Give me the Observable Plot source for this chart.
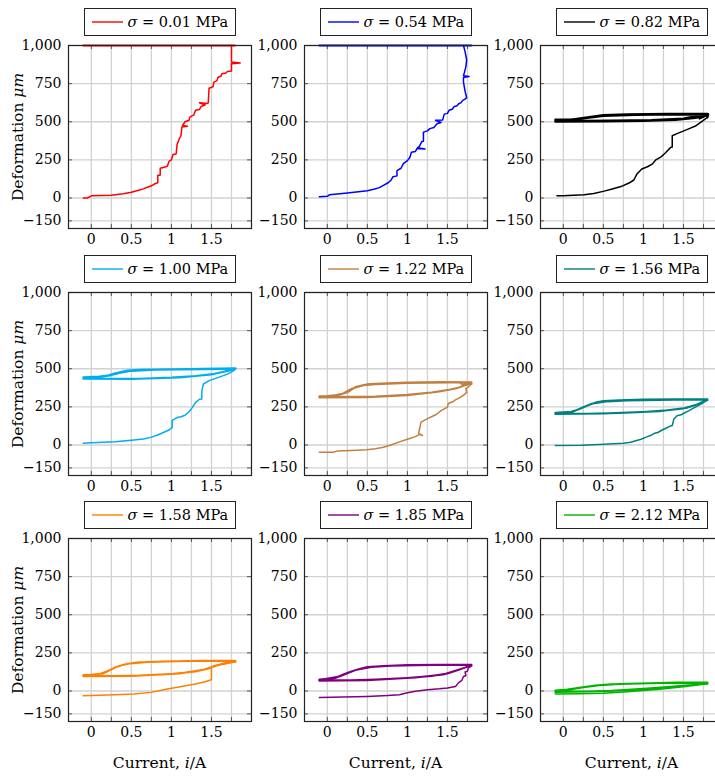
<!DOCTYPE html>
<html>
<head>
<meta charset="utf-8">
<script src="https://cdn.jsdelivr.net/npm/d3@7"></script>
<script src="https://cdn.jsdelivr.net/npm/@observablehq/plot@0.6"></script>
<style>
  html, body { margin: 0; padding: 0; background: #fff; }
  #wrap { position: relative; width: 715px; height: 776px; overflow: hidden;
          font-family: "DejaVu Serif", serif; color: #000; }
  .legend { position: absolute; box-sizing: border-box; height: 28px; width: 152px; border: 1px solid #222; background: #fff;
            display: flex; align-items: center; font-size: 14.5px; white-space: nowrap; }
  .legend svg { margin: 0 5px 0 7px; flex: none; }
  .lab { position: absolute; font-size: 15.5px; white-space: nowrap; }
  i { font-style: italic; }
</style>
</head>
<body>
<div id="wrap"></div>
<script>
// Deformation (µm) against coil current (A) for nine pre-stress levels.
// Each series: the first-loading rise, then the repeated hysteresis passes.

const stresses = ["0.01", "0.54", "0.82", "1.00", "1.22", "1.56", "1.58", "1.85", "2.12"];
const colors = ["#ff0000", "#0000ff", "#000000", "#00aeef", "#c0803f", "#008080", "#ff8000", "#800080", "#00b400"];

const xTickLabels = [0, 0.5, 1, 1.5];
const xGrid = [0, 0.25, 0.5, 0.75, 1, 1.25, 1.5, 1.75];
const yTicks = [-150, 0, 250, 500, 750, 1000];

// σ = 0.01 MPa
const rise001 = [[-0.1,0],[-0.05,0],[0,14],[0.25,18],[0.4,28],[0.5,38],[0.6,52],[0.65,60],[0.7,70],[0.75,80],[0.8,95],[0.83,100],[0.83,150],[0.86,150],[0.86,195],[0.93,205],[0.95,210],[0.97,240],[1.0,250],[1.02,285],[1.06,290],[1.07,350],[1.1,390],[1.12,410],[1.13,465],[1.2,470],[1.14,476],[1.17,500],[1.22,510],[1.23,530],[1.28,545],[1.3,575],[1.35,580],[1.37,600],[1.42,610],[1.35,625],[1.45,620],[1.46,625],[1.47,720],[1.52,730],[1.53,760],[1.57,770],[1.58,790],[1.62,800],[1.63,815],[1.68,820],[1.7,830],[1.75,832],[1.75,880],[1.86,886],[1.75,892],[1.75,1000]];
const loop001 = [[1.75,1000],[1.79,1000],[-0.1,1000]];

// σ = 0.54 MPa
const rise054 = [[-0.1,9],[0,11],[0.03,22],[0.25,33],[0.5,48],[0.58,57],[0.65,68],[0.7,83],[0.76,100],[0.8,120],[0.82,140],[0.87,145],[0.87,180],[0.92,195],[0.95,225],[1.0,245],[1.03,265],[1.05,300],[1.1,305],[1.12,325],[1.22,322],[1.13,330],[1.15,340],[1.18,370],[1.2,372],[1.2,432],[1.25,440],[1.28,455],[1.33,462],[1.37,487],[1.42,495],[1.35,510],[1.44,512],[1.46,550],[1.5,555],[1.52,575],[1.56,582],[1.58,598],[1.62,605],[1.64,618],[1.67,625],[1.69,640],[1.72,648],[1.74,658],[1.72,700],[1.7,760],[1.7,790],[1.77,796],[1.7,802],[1.71,820],[1.73,860],[1.74,905],[1.72,960],[1.7,1000]];
const loop054 = [[1.7,1000],[1.8,1000],[-0.1,1000]];

// σ = 0.82 MPa
const rise082 = [[-0.08,15],[0,15],[0.26,22],[0.38,30],[0.51,45],[0.6,58],[0.72,75],[0.82,98],[0.88,118],[0.92,158],[0.98,190],[1.05,205],[1.11,222],[1.15,248],[1.22,270],[1.28,298],[1.34,332],[1.36,335],[1.36,408],[1.42,422],[1.55,450],[1.65,472],[1.74,505],[1.8,528]];
const loop082 = [[1.8,528],[1.81,548],[1.5,550],[1.0,548],[0.6,543],[0.4,535],[0.2,520],[0.0,512],[-0.1,510],[-0.1,503],[0.3,504],[0.8,506],[1.2,510],[1.5,518],[1.7,532],[1.81,550],[1.65,548],[1.81,545],[1.4,548],[0.9,545],[0.5,537],[0.25,522],[0,508],[-0.1,507],[-0.1,500],[0.5,502],[1.0,505],[1.4,512],[1.65,525],[1.8,543],[1.7,520],[1.8,552],[1.3,552],[0.8,550],[0.5,545],[0.3,530],[0.1,515],[-0.1,515],[-0.1,505],[0.6,508],[1.1,512],[1.5,522],[1.8,552]];

// σ = 1.00 MPa
const rise100 = [[-0.1,11],[0,15],[0.3,22],[0.53,33],[0.65,40],[0.74,50],[0.82,64],[0.9,82],[0.97,98],[1.0,112],[1.01,116],[1.01,162],[1.07,180],[1.12,185],[1.17,195],[1.22,218],[1.26,245],[1.3,278],[1.35,300],[1.38,302],[1.38,355],[1.4,400],[1.47,422],[1.57,440],[1.7,465],[1.78,488],[1.8,500]];
const loop100 = [[1.8,500],[1.8,503],[1.4,500],[1.0,497],[0.6,494],[0.45,488],[0.3,470],[0.2,455],[0.1,450],[-0.1,445],[-0.1,437],[0.3,434],[0.6,435],[1.0,442],[1.3,452],[1.55,468],[1.7,485],[1.8,500],[1.4,497],[0.8,493],[0.5,486],[0.35,472],[0.25,458],[0.1,446],[-0.1,440],[-0.1,434],[0.5,432],[1.1,443],[1.5,462],[1.8,498]];

// σ = 1.22 MPa
const rise122 = [[-0.1,-48],[0.07,-48],[0.12,-40],[0.3,-36],[0.49,-31],[0.6,-25],[0.7,-15],[0.78,-2],[0.83,7],[0.91,22],[1.0,38],[1.1,55],[1.15,70],[1.19,62],[1.14,78],[1.17,150],[1.24,170],[1.3,185],[1.36,200],[1.42,225],[1.49,245],[1.5,248],[1.51,272],[1.57,285],[1.6,296],[1.66,312],[1.71,330],[1.74,345],[1.73,370],[1.76,380],[1.8,400]];
const loop122 = [[1.8,400],[1.8,412],[1.4,413],[1.0,410],[0.6,402],[0.5,398],[0.35,380],[0.25,345],[0.15,330],[0,322],[-0.1,320],[-0.1,314],[0.3,316],[0.6,318],[1.0,330],[1.3,345],[1.5,360],[1.65,378],[1.72,395],[1.8,410],[1.5,410],[1.0,406],[0.6,398],[0.45,392],[0.3,368],[0.2,338],[0.1,326],[-0.1,317],[-0.1,312],[0.5,313],[1.0,326],[1.4,350],[1.6,370],[1.7,388],[1.8,405],[1.7,395],[1.65,410]];

// σ = 1.56 MPa
const rise156 = [[-0.1,-4],[0.22,-2],[0.45,3],[0.63,8],[0.75,12],[0.84,18],[0.97,38],[1.05,55],[1.09,62],[1.13,75],[1.18,82],[1.24,100],[1.28,110],[1.34,125],[1.36,128],[1.38,170],[1.42,192],[1.48,200],[1.51,210],[1.57,225],[1.63,243],[1.72,268],[1.75,280],[1.8,295]];
const loop156 = [[1.8,295],[1.8,300],[1.4,300],[1.0,298],[0.7,293],[0.5,288],[0.4,278],[0.3,258],[0.2,235],[0.1,218],[-0.1,212],[-0.1,205],[0.3,205],[0.7,210],[1.0,216],[1.3,228],[1.5,240],[1.65,262],[1.8,297],[1.4,297],[0.8,291],[0.55,286],[0.35,270],[0.25,248],[0.1,214],[-0.1,208],[-0.1,203],[0.5,206],[1.2,222],[1.55,245],[1.7,270],[1.8,298]];

// σ = 1.58 MPa
const rise158 = [[-0.1,-31],[0.11,-28],[0.3,-24],[0.53,-20],[0.74,-9],[0.85,2],[0.95,13],[1.11,28],[1.28,44],[1.4,57],[1.49,72],[1.5,76],[1.5,155],[1.53,166],[1.6,172],[1.7,182],[1.8,192]];
const loop158 = [[1.8,192],[1.8,198],[1.4,198],[1.0,195],[0.6,188],[0.5,182],[0.4,172],[0.3,155],[0.2,130],[0.1,110],[-0.1,105],[-0.1,98],[0.3,98],[0.6,102],[1.0,112],[1.3,128],[1.45,145],[1.55,165],[1.65,180],[1.8,196],[1.2,196],[0.7,190],[0.45,178],[0.32,160],[0.15,115],[-0.1,102],[-0.1,96],[0.5,99],[1.1,115],[1.4,140],[1.6,172],[1.8,195]];

// σ = 1.85 MPa
const rise185 = [[-0.1,-42],[0.2,-40],[0.5,-36],[0.75,-30],[0.9,-24],[1.0,-12],[1.1,-2],[1.25,8],[1.4,14],[1.5,20],[1.6,30],[1.64,55],[1.68,70],[1.7,95],[1.73,100],[1.72,125],[1.75,130],[1.76,150],[1.8,165]];
const loop185 = [[1.8,165],[1.8,172],[1.4,172],[1.0,170],[0.7,164],[0.5,157],[0.4,145],[0.3,128],[0.2,108],[0.1,85],[-0.1,76],[-0.1,70],[0.3,70],[0.6,75],[1.0,86],[1.3,98],[1.5,115],[1.65,140],[1.8,170],[1.3,170],[0.8,166],[0.55,158],[0.35,137],[0.15,95],[-0.1,73],[-0.1,67],[0.5,71],[1.1,88],[1.45,108],[1.7,150],[1.8,168]];

// σ = 2.12 MPa
const rise212 = [[-0.1,-20],[0.2,-18],[0.5,-14],[0.8,-5],[1.0,3],[1.2,12],[1.5,28],[1.8,48]];
const loop212 = [[1.8,48],[1.8,55],[1.4,55],[1.0,50],[0.6,44],[0.4,36],[0.2,22],[0.05,10],[-0.1,3],[-0.1,-3],[0.3,-3],[0.6,2],[1.0,14],[1.3,26],[1.6,40],[1.8,52],[1.2,52],[0.7,46],[0.45,38],[0.25,25],[0.1,12],[-0.1,0],[-0.1,-6],[0.5,-2],[1.0,10],[1.5,35],[1.8,50]];

const rises = [rise001, rise054, rise082, rise100, rise122, rise156, rise158, rise185, rise212];
const loops = [loop001, loop054, loop082, loop100, loop122, loop156, loop158, loop185, loop212];

// Panel grid geometry (inner plot frame, in page pixels)
const frameLeft = [68, 304, 540];
const frameTop = [45, 292, 538];
const W = 183, H = 183;
const mL = 62, mR = 10, mT = 6, mB = 30;
const serif = "'DejaVu Serif', serif";

const wrap = document.getElementById("wrap");

stresses.forEach((s, k) => {
  const col = k % 3, row = Math.floor(k / 3);
  const color = colors[k];
  const chart = Plot.plot({
    width: W + mL + mR,
    height: H + mT + mB,
    marginLeft: mL, marginRight: mR, marginTop: mT, marginBottom: mB,
    style: {fontFamily: serif, fontSize: "14px", color: "#000", background: "transparent", overflow: "visible"},
    x: {domain: [-0.285, 2.0]},
    y: {domain: [-200, 1000]},
    marks: [
      Plot.ruleX(xGrid, {stroke: "#d2d2d2", strokeWidth: 1.3}),
      Plot.ruleY(yTicks, {stroke: "#d2d2d2", strokeWidth: 1.3}),
      Plot.ruleX(xGrid, {insetTop: H - 4, stroke: "#555"}),
      Plot.ruleX(xGrid, {insetBottom: H - 4, stroke: "#555"}),
      Plot.ruleY(yTicks, {insetRight: W - 4, stroke: "#555"}),
      Plot.ruleY(yTicks, {insetLeft: W - 4, stroke: "#555"}),
      Plot.line(loops[k], {x: d => d[0], y: d => d[1], stroke: color, strokeWidth: 2, curve: "linear"}),
      Plot.line(rises[k], {x: d => d[0], y: d => d[1], stroke: color, strokeWidth: 1.5, curve: "linear"}),
      Plot.frame({stroke: "#222", strokeWidth: 1.2}),
      Plot.axisX(xTickLabels, {tickSize: 0, tickPadding: 6, tickFormat: d => String(d), label: null, fontFamily: serif}),
      Plot.axisY(yTicks, {tickSize: 0, tickPadding: 7, tickFormat: d => d3.format(",")(d), label: null, fontFamily: serif})
    ]
  });
  chart.style.position = "absolute";
  chart.style.left = (frameLeft[col] - mL) + "px";
  chart.style.top = (frameTop[row] - mT) + "px";
  wrap.appendChild(chart);

  // legend box above each panel
  const lg = document.createElement("div");
  lg.className = "legend";
  lg.style.left = (frameLeft[col] + W / 2 - 76) + "px";
  lg.style.top = (frameTop[row] - 37) + "px";
  lg.innerHTML = `<svg width="31" height="4"><line x1="0" y1="2" x2="31" y2="2" stroke="${color}" stroke-width="1.4"/></svg><span><i>σ</i> = ${s} MPa</span>`;
  wrap.appendChild(lg);
});

// y-axis title on the first column
[0, 1, 2].forEach(row => {
  const t = document.createElement("div");
  t.className = "lab";
  t.innerHTML = "Deformation <i>μm</i>";
  t.style.left = "18px";
  t.style.top = (frameTop[row] + H / 2) + "px";
  t.style.transform = "translate(-50%, -50%) rotate(-90deg)";
  wrap.appendChild(t);
});

// x-axis title below the bottom row
[0, 1, 2].forEach(col => {
  const t = document.createElement("div");
  t.className = "lab";
  t.innerHTML = "Current, <i>i</i>/A";
  t.style.left = (frameLeft[col] + W / 2) + "px";
  t.style.top = "763px";
  t.style.transform = "translate(-50%, -50%)";
  wrap.appendChild(t);
});
</script>
</body>
</html>
